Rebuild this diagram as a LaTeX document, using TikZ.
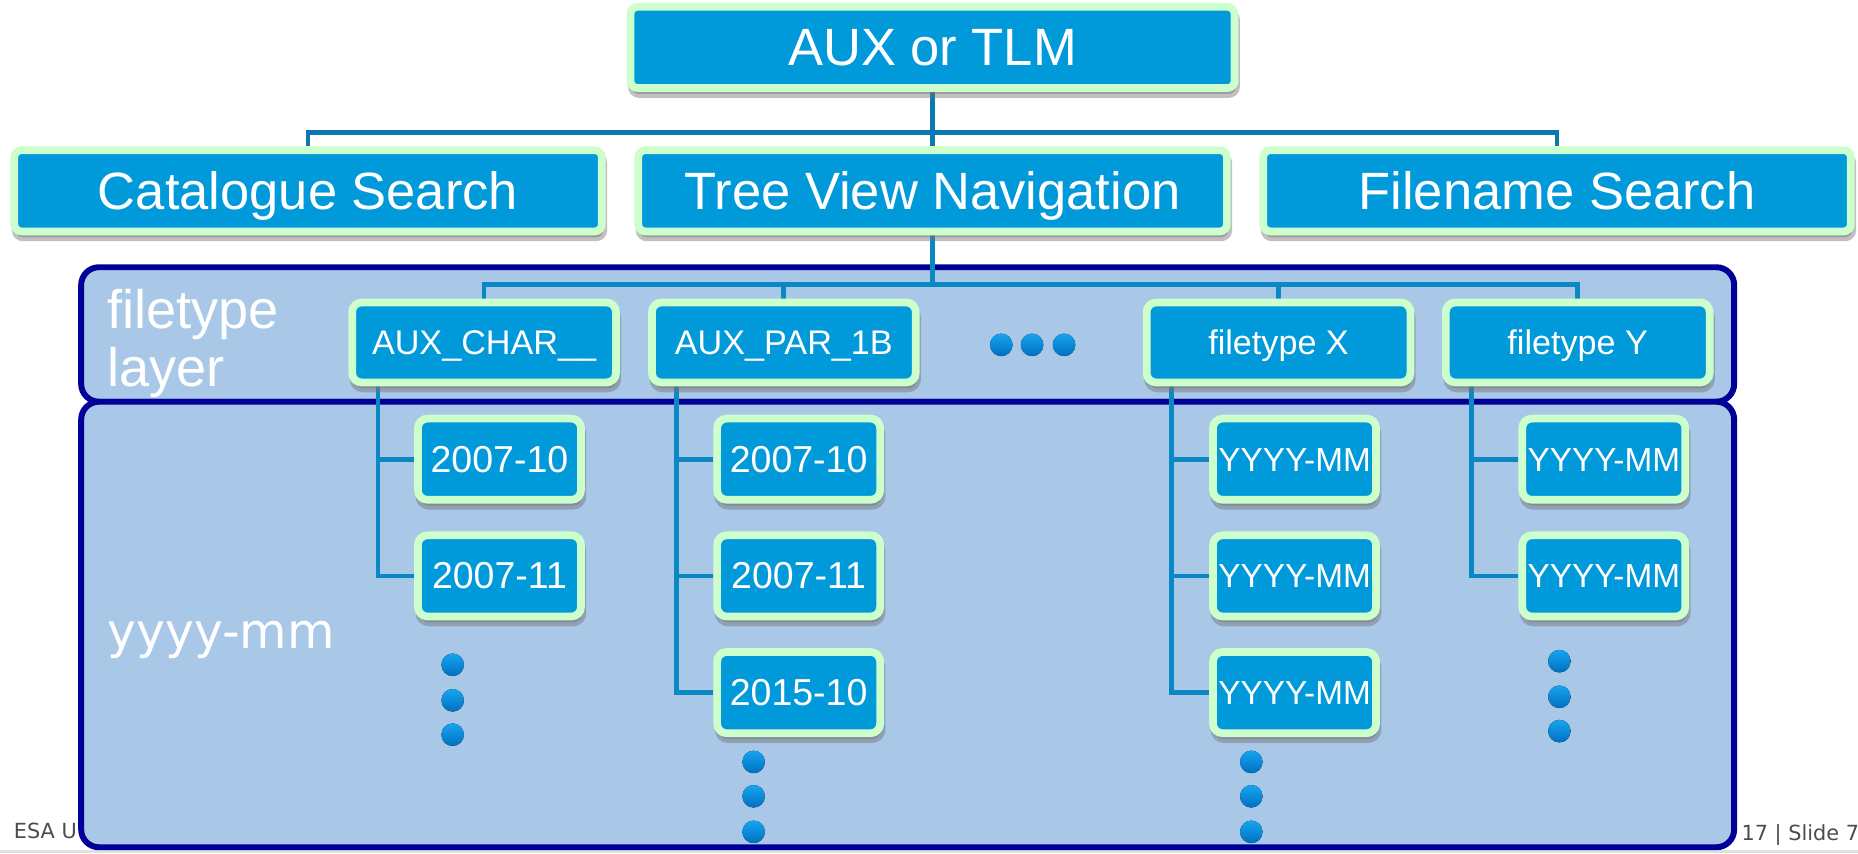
\documentclass[tikz,border=0pt]{standalone}
\usepackage{fontspec}
\setmainfont{Liberation Sans}
\newfontfamily\dejavu{DejaVu Sans}
\usetikzlibrary{shadows}
\definecolor{boxblue}{HTML}{0099DA}
\definecolor{boxrim}{HTML}{CCFFCC}
\definecolor{panelfill}{HTML}{A9C8E8}
\definecolor{panelrim}{HTML}{000099}
\definecolor{topwire}{HTML}{0B78B0}
\definecolor{wire}{HTML}{0A88C6}
\definecolor{dotlight}{HTML}{15A5F0}
\definecolor{dotdark}{HTML}{0070C0}
\pgfdeclarelayer{back}
\pgfdeclarelayer{wires}
\pgfsetlayers{back,wires,main}
\tikzset{
  box/.style={rectangle, fill=boxblue, draw=boxrim, line width=0.065cm, text=white, inner sep=1pt,
    drop shadow={shadow xshift=0.012cm, shadow yshift=-0.05cm, fill=black!55, draw=black!55, opacity=0.45}},
  bigbox/.style={box, rounded corners=0.06cm, minimum height=0.685cm, text height=0.32cm, text depth=0.01cm,
    font=\fontsize{12.6}{14}\selectfont},
  ftbox/.style={box, rounded corners=0.08cm, minimum width=2.225cm, minimum height=0.675cm, text height=0.2cm, text depth=0cm,
    font=\fontsize{8.2}{9}\selectfont},
  monthbox/.style={box, rounded corners=0.08cm, minimum width=1.375cm, minimum height=0.685cm, text height=0.22cm, text depth=0cm,
    font=\fontsize{9}{10}\selectfont},
  ymbox/.style={monthbox, font=\fontsize{8}{9}\selectfont, text height=0.2cm, inner xsep=0.3pt},
  upwire/.style={draw=topwire, line width=0.04cm},
  wireline/.style={draw=wire, line width=0.04cm},
  panel/.style={fill=panelfill, draw=panelrim, line width=0.05cm, rounded corners=0.15cm},
  dot/.style={top color=dotlight, bottom color=dotdark},
  layertext/.style={text=white, inner sep=0pt},
  foot/.style={font=\dejavu\fontsize{5}{6}\selectfont, text=black!70, anchor=base west, inner sep=0pt},
}
\begin{document}
\begin{tikzpicture}[x=0.01cm,y=-0.01cm]
    \useasboundingbox (0,0) rectangle (1568,720);
    % slide background and the two layer panels
    \begin{pgfonlayer}{back}
        \node[foot] (footl) at (11,708) {ESA U};
        \node[foot] (footr) at (1469,709) {17 | Slide 7};
        \fill[black!12] (0,717) rectangle (1568,720);
        \draw[panel] (68.5,225.5) rectangle (1463.5,339);
        \draw[panel] (68.5,339) rectangle (1463.5,715);
    \end{pgfonlayer}
    \node[layertext, font=\fontsize{13}{14}\selectfont, align=left, anchor=north west] (ftlabel) at (90,243) {filetype\\layer};
    \node[layertext, font=\dejavu\fontsize{11.7}{14}\selectfont, anchor=base west] (ymlabel) at (90,547) {yyyy-mm};
    % search modes
    \node[bigbox, minimum width=5.095cm] (aux) at (787,40) {AUX or TLM};
    \node[bigbox, minimum width=4.955cm] (cat) at (260,161) {Catalogue Search};
    \node[bigbox, minimum width=4.965cm] (tree) at (787,161) {Tree View Navigation};
    \node[bigbox, minimum width=4.955cm] (fname) at (1314,161) {Filename Search};
    % filetype layer
    \node[ftbox] (ftchar) at (408.5,289) {AUX\_CHAR\_\_};
    \node[ftbox] (ftpar) at (661.5,289) {AUX\_PAR\_1B};
    \node[ftbox] (ftx) at (1079,289) {filetype X};
    \node[ftbox] (fty) at (1331.5,289) {filetype Y};
    \foreach \x in {845,871,898}
        \fill[dot] (\x,291) circle (0.095cm);
    % yyyy-mm layer
    \node[monthbox] (m1a) at (421.5,387.5) {2007-10};
    \node[monthbox] (m1b) at (421.5,486) {2007-11};
    \node[monthbox] (m2a) at (674,387.5) {2007-10};
    \node[monthbox] (m2b) at (674,486) {2007-11};
    \node[monthbox] (m2c) at (674,584.5) {2015-10};
    \node[ymbox] (mxa) at (1092.5,387.5) {YYYY-MM};
    \node[ymbox] (mxb) at (1092.5,486) {YYYY-MM};
    \node[ymbox] (mxc) at (1092.5,584.5) {YYYY-MM};
    \node[ymbox] (mya) at (1353.5,387.5) {YYYY-MM};
    \node[ymbox] (myb) at (1353.5,486) {YYYY-MM};
    \foreach \y in {561,591,620} {
        \fill[dot] (382,\y) circle (0.095cm);
        \fill[dot] (1316,\y-3) circle (0.095cm);
    }
    \foreach \y in {643,672,702} {
        \fill[dot] (636,\y) circle (0.095cm);
        \fill[dot] (1056,\y) circle (0.095cm);
    }
    % connectors
    \coordinate (busa) at (787,112);
    \coordinate (busb) at (787,240);
    \begin{pgfonlayer}{wires}
        \draw[upwire] (aux.south) -- (tree.north);
        \draw[upwire] (cat.north) |- (busa) -| (fname.north);
        \draw[wireline] (tree.south) -- (busb);
        \draw[wireline] (ftchar.north) |- (busb) -| (fty.north);
        \draw[wireline] (ftpar.north) -- (ftpar.north |- busb);
        \draw[wireline] (ftx.north) -- (ftx.north |- busb);
        \draw[wireline] ([xshift=0.25cm]ftchar.south west) |- (m1a.west)
            ([xshift=0.25cm]ftchar.south west) |- (m1b.west);
        \draw[wireline] ([xshift=0.24cm]ftpar.south west) |- (m2a.west)
            ([xshift=0.24cm]ftpar.south west) |- (m2b.west)
            ([xshift=0.24cm]ftpar.south west) |- (m2c.west);
        \draw[wireline] ([xshift=0.24cm]ftx.south west) |- (mxa.west)
            ([xshift=0.24cm]ftx.south west) |- (mxb.west)
            ([xshift=0.24cm]ftx.south west) |- (mxc.west);
        \draw[wireline] ([xshift=0.25cm]fty.south west) |- (mya.west)
            ([xshift=0.25cm]fty.south west) |- (myb.west);
    \end{pgfonlayer}
\end{tikzpicture}
\end{document}
